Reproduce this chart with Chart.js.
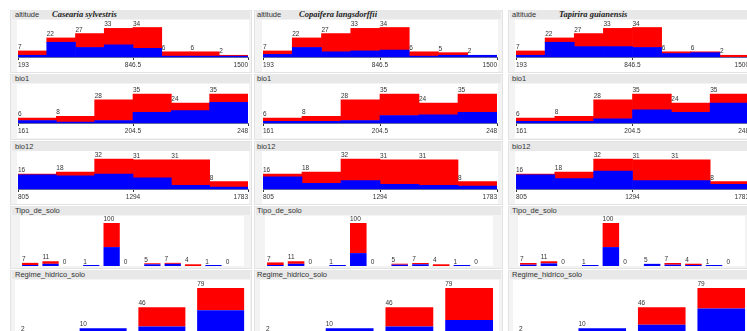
<!DOCTYPE html>
<html>
<head>
<meta charset="utf-8">
<script src="https://cdn.jsdelivr.net/npm/chart.js@4.4.1/dist/chart.umd.min.js"></script>
<style>
body { margin: 0; width: 747px; height: 331px; overflow: hidden; position: relative; background: #fff; font-family: 'Liberation Sans', Arial, sans-serif; }
.panel { position: absolute; background: #f3f3f3; border: 1px solid #e2e2e2; box-sizing: border-box; }
.head { position: absolute; height: 9px; background: #e8e8e8; font-size: 7.5px; line-height: 9px; color: #333; white-space: nowrap; }
.title { position: absolute; font-family: 'Liberation Serif', serif; font-style: italic; font-weight: bold; font-size: 8.5px; line-height: 9px; color: #222; white-space: nowrap; }
canvas { position: absolute; background: #fff; }
</style>
</head>
<body>
<script>
const species = ['Casearia sylvestris', 'Copaifera langsdorffii', 'Tapirira guianensis'];

// numeric attributes: tick labels (min, mid, max) and bin counts
const altitudeTicks = [193, 846.5, 1500];
const bio1Ticks = [161, 204.5, 248];
const bio12Ticks = [805, 1294, 1783];

const altitudeTotals = [[7, 22, 27, 33, 34, 6, 6, 2], [7, 22, 27, 33, 34, 6, 5, 2], [7, 22, 27, 33, 34, 6, 6, 2]];
const altitudeBlue = [[2, 17, 11, 14, 10, 1, 1, 1], [3, 11, 6, 7, 8, 1, 2, 2], [2, 17, 12, 12, 11, 4, 5, 0]];

const bio1Totals = [[6, 8, 28, 35, 24, 35], [6, 8, 28, 35, 24, 35], [6, 8, 28, 35, 24, 35]];
const bio1Blue = [[3, 1, 3, 13, 15, 25], [2, 2, 3, 9, 10, 13], [2, 2, 5, 16, 13, 24]];

const bio12Totals = [[16, 18, 32, 31, 31, 8], [16, 18, 32, 31, 31, 8], [16, 18, 32, 31, 31, 8]];
const bio12Blue = [[15, 14, 16, 12, 4, 2], [13, 6, 9, 5, 4, 3], [15, 11, 19, 9, 9, 5]];

// nominal attributes
const soloTotals = [[7, 11, 0, 1, 100, 0, 5, 7, 4, 1, 0], [7, 11, 0, 1, 100, 0, 5, 7, 4, 1, 0], [7, 11, 0, 1, 100, 0, 5, 7, 4, 1, 0]];
const soloBlue = [[2, 5, 0, 1, 44, 0, 4, 5, 0, 1, 0], [1, 5, 0, 1, 30, 0, 3, 4, 0, 1, 0], [3, 6, 0, 1, 44, 0, 5, 3, 1, 1, 0]];

const regimeTotals = [[2, 10, 46, 79], [2, 10, 46, 79], [2, 10, 46, 79]];
const regimeBlue = [[1, 10, 13, 41], [1, 10, 13, 24], [1, 10, 16, 44]];

const RED = '#ff0000';
const BLUE = '#0000ff';

// layout of the rows and columns (pixels)
const rows = [
    { label: 'altitude', totals: altitudeTotals, blue: altitudeBlue, ticks: altitudeTicks, headY: 14.5, base: 57, barTop: 27.5 },
    { label: 'bio1', totals: bio1Totals, blue: bio1Blue, ticks: bio1Ticks, headY: 78.5, base: 123, barTop: 94 },
    { label: 'bio12', totals: bio12Totals, blue: bio12Blue, ticks: bio12Ticks, headY: 146, base: 189, barTop: 159 },
    { label: 'Tipo_de_solo', totals: soloTotals, blue: soloBlue, ticks: null, headY: 210.5, base: 266, barTop: 223, padL: 3, padR: 5, barFrac: 0.8 },
    { label: 'Regime_hidrico_solo', totals: regimeTotals, blue: regimeBlue, ticks: null, headY: 274.5, base: 334, barTop: 288, padL: -2, padR: -1, barFrac: 0.8 }
];

const cols = [
    { panelX: 10, panelW: 242, plotX: 17, plotW: 232, textX: 15, titleX: 52 },
    { panelX: 254, panelW: 249, plotX: 262, plotW: 236, textX: 257, titleX: 299 },
    { panelX: 508, panelW: 250, plotX: 515, plotW: 235, textX: 512, titleX: 559 }
];

const AXIS_H = 15;

const countLabels = {
    id: 'countLabels',
    afterDatasetsDraw(chart, args, opts) {
        const { ctx, scales: { x, y } } = chart;
        const totals = opts.totals;
        const w = x.width / totals.length * opts.barFrac;
        ctx.save();
        ctx.font = '6.5px "Liberation Sans", Arial, sans-serif';
        ctx.fillStyle = '#333';
        ctx.textAlign = 'left';
        ctx.textBaseline = 'bottom';
        totals.forEach((t, i) => {
            const px = x.getPixelForValue(i) - w / 2;
            const py = y.getPixelForValue(t);
            ctx.fillText(String(t), px, py - 0.5);
        });
        ctx.restore();
    }
};

function addDiv(cls, left, top, width, height, text) {
    const d = document.createElement('div');
    d.className = cls;
    d.style.left = left + 'px';
    d.style.top = top + 'px';
    if (width != null) d.style.width = width + 'px';
    if (height != null) d.style.height = height + 'px';
    if (text) d.textContent = text;
    document.body.appendChild(d);
    return d;
}

rows.forEach((row, r) => {
    const nextTop = r < rows.length - 1 ? rows[r + 1].headY - 5 : 345;
    const panelTop = Math.round(row.headY - 5);

    cols.forEach((col, c) => {
        addDiv('panel', col.panelX, panelTop, col.panelW, Math.round(nextTop - panelTop - 1));
        const head = addDiv('head', col.panelX + 2, Math.round(row.headY - 4.5), col.panelW - 4, null, row.label);
        head.style.paddingLeft = (col.textX - col.panelX - 2) + 'px';
        head.style.boxSizing = 'border-box';
        if (r === 0) addDiv('title', col.titleX, Math.round(row.headY - 4.5), null, null, species[c]);

        const totals = row.totals[c];
        const blue = row.blue[c];
        const red = totals.map((t, i) => t - blue[i]);
        const numeric = !!row.ticks;
        const barFrac = numeric ? 1 : row.barFrac;

        const top = Math.round(row.headY + 5);
        const left = numeric ? col.plotX : col.plotX + row.padL;
        const width = numeric ? col.plotW : col.plotW - row.padL - row.padR;
        const height = Math.round(row.base - top + (numeric ? AXIS_H : 0));
        const areaH = row.base - top;
        const maxT = Math.max(...totals);
        const yMax = maxT * areaH / (row.base - row.barTop);

        const canvas = document.createElement('canvas');
        canvas.width = width;
        canvas.height = height;
        canvas.style.left = left + 'px';
        canvas.style.top = top + 'px';
        canvas.style.width = width + 'px';
        canvas.style.height = height + 'px';
        document.body.appendChild(canvas);

        const scales = {
            x: { stacked: true, display: false },
            y: { stacked: true, display: false, min: 0, max: yMax }
        };
        if (numeric) {
            scales.x2 = {
                type: 'linear',
                position: 'bottom',
                offset: false,
                min: row.ticks[0],
                max: row.ticks[2],
                afterBuildTicks: s => { s.ticks = row.ticks.map(v => ({ value: v })); },
                afterFit: s => { s.height = AXIS_H; },
                grid: { offset: false, drawOnChartArea: false, drawTicks: true, tickLength: 3, color: '#333' },
                border: { display: true, color: '#6464a8', width: 1 },
                ticks: {
                    font: { size: 6.5, family: '"Liberation Sans", Arial, sans-serif' },
                    color: '#333',
                    padding: 1,
                    align: 'inner',
                    maxRotation: 0,
                    autoSkip: false,
                    callback: v => String(v)
                }
            };
        }

        new Chart(canvas.getContext('2d'), {
            type: 'bar',
            data: {
                labels: totals.map((_, i) => i + 1),
                datasets: [{
                    data: blue.map(v => v > 0 ? v : null),
                    backgroundColor: BLUE,
                    categoryPercentage: 1,
                    barPercentage: barFrac,
                    minBarLength: numeric ? 0 : 1
                }, {
                    data: red.map(v => v > 0 ? v : null),
                    backgroundColor: RED,
                    categoryPercentage: 1,
                    barPercentage: barFrac,
                    minBarLength: numeric ? 0 : 1
                }]
            },
            options: {
                responsive: false,
                animation: false,
                layout: { padding: 0 },
                scales: scales,
                plugins: {
                    legend: { display: false },
                    tooltip: { enabled: false },
                    countLabels: { totals: totals, barFrac: barFrac }
                }
            },
            plugins: [countLabels]
        });
    });
});
</script>
</body>
</html>
